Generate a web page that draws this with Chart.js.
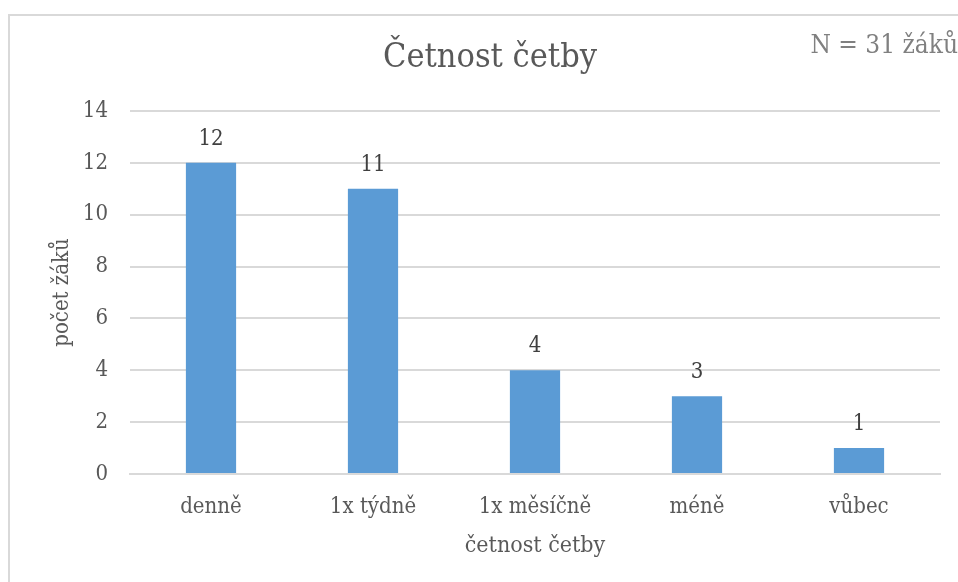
<!DOCTYPE html>
<html>
<head>
<meta charset="utf-8">
<script src="https://cdn.jsdelivr.net/npm/chart.js@4/dist/chart.umd.min.js"></script>
<style>
  html, body { margin: 0; padding: 0; background: #fff; }
  #wrap { width: 958px; height: 582px; }
</style>
</head>
<body>
<div id="wrap"><canvas id="readingChart" width="958" height="582"></canvas></div>
<script>
// data
const categories = ['denně', '1x týdně', '1x měsíčně', 'méně', 'vůbec'];
const pupilCounts = [12, 11, 4, 3, 1];
const yTicks = [0, 2, 4, 6, 8, 10, 12, 14];
const chartTitle = 'Četnost četby';
const noteText = 'N = 31 žáků';

const FONT = '"DejaVu Serif Condensed", "Liberation Serif", serif';

// frame, title, note and value labels drawn on top of the chart
const extrasPlugin = {
    id: 'extras',
    beforeDraw(chart) {
        const ctx = chart.ctx;
        ctx.save();
        ctx.strokeStyle = '#d9d9d9';
        ctx.lineWidth = 2;
        ctx.strokeRect(9, 15, 1200, 1200);
        ctx.restore();
    },
    afterDatasetsDraw(chart) {
        const ctx = chart.ctx;
        ctx.save();
        ctx.textAlign = 'center';
        ctx.textBaseline = 'middle';

        ctx.fillStyle = '#595959';
        ctx.font = '34px ' + FONT;
        ctx.fillText(chartTitle, 490, 58);

        ctx.fillStyle = '#808080';
        ctx.font = '26px ' + FONT;
        ctx.textAlign = 'right';
        ctx.fillText(noteText, 958, 46);

        // value labels above bars
        ctx.textAlign = 'center';
        ctx.fillStyle = '#404040';
        ctx.font = '22px ' + FONT;
        const meta = chart.getDatasetMeta(0);
        meta.data.forEach((bar, i) => {
            ctx.fillText(String(pupilCounts[i]), bar.x, bar.y - 24);
        });
        ctx.restore();
    }
};

const ctx = document.getElementById('readingChart').getContext('2d');
const readingChart = new Chart(ctx, {
    type: 'bar',
    data: {
        labels: categories,
        datasets: [{
            data: pupilCounts,
            backgroundColor: '#5b9bd5',
            borderWidth: 0,
            barPercentage: 0.31,
            categoryPercentage: 1
        }]
    },
    options: {
        responsive: false,
        animation: false,
        layout: { padding: { left: 9, right: 18, top: 111, bottom: 0 } },
        plugins: {
            legend: { display: false },
            tooltip: { enabled: false }
        },
        scales: {
            x: {
                afterFit: scale => { scale.height = 108; },
                grid: { display: false, drawTicks: false },
                border: { color: '#d9d9d9', width: 2 },
                ticks: {
                    padding: 20,
                    color: '#595959',
                    font: { family: FONT, size: 22 }
                },
                title: {
                    display: true,
                    text: 'četnost četby',
                    color: '#595959',
                    font: { family: FONT, size: 23 },
                    padding: { top: 4, bottom: 22 }
                }
            },
            y: {
                min: 0,
                max: 14,
                afterFit: scale => { scale.width = 121; },
                afterBuildTicks: scale => {
                    scale.ticks = yTicks.map(v => ({ value: v }));
                },
                grid: { color: '#d9d9d9', lineWidth: 2, drawTicks: false },
                border: { display: false },
                ticks: {
                    padding: 22,
                    color: '#595959',
                    font: { family: FONT, size: 22 }
                },
                title: {
                    display: true,
                    text: 'počet žáků',
                    color: '#595959',
                    font: { family: FONT, size: 22 },
                    padding: { top: 40, bottom: 0 }
                }
            }
        }
    },
    plugins: [extrasPlugin]
});
</script>
</body>
</html>
